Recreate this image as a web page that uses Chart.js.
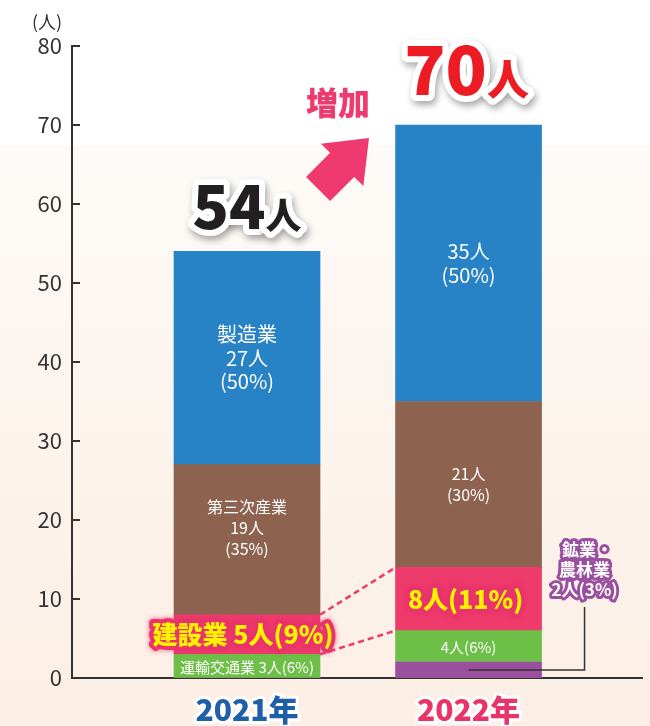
<!DOCTYPE html>
<html>
<head>
<meta charset="utf-8">
<script src="https://cdn.jsdelivr.net/npm/chart.js@4.4.1/dist/chart.umd.min.js"></script>
<style>
    html, body { margin: 0; padding: 0; }
    body {
        width: 650px; height: 726px; overflow: hidden;
        background: linear-gradient(to bottom, #ffffff 0px, #ffffff 144px, #fdfbf8 146px, #fcf4ed 420px, #fcefe5 726px);
    }
    #wrap { position: relative; width: 650px; height: 726px; }
</style>
</head>
<body>
<div id="wrap"><canvas id="chart" width="650" height="726"></canvas></div>
<script>
// data (人)
const years = ['2021年', '2022年'];
const mining = [0, 2];          // 鉱業・農林業
const transport = [3, 4];       // 運輸交通業
const construction = [5, 8];    // 建設業
const tertiary = [19, 21];      // 第三次産業
const manufacturing = [27, 35]; // 製造業
const yTicks = [0, 10, 20, 30, 40, 50, 60, 70, 80];

const series = [mining, transport, construction, tertiary, manufacturing];
const colors = ['#9b4f9f', '#6dbf47', '#ef3a6c', '#8d624f', '#2882c6'];
const totals = years.map((_, i) => series.reduce((s, arr) => s + arr[i], 0));
const pct = (arr, i) => Math.round(arr[i] / totals[i] * 100);

const FONT = '"Noto Sans CJK JP", "Noto Sans", sans-serif';

function txt(ctx, s, x, y, o) {
    ctx.save();
    ctx.font = (o.weight || 'normal') + ' ' + o.size + 'px ' + FONT;
    ctx.textAlign = o.align || 'center';
    ctx.textBaseline = o.baseline || 'middle';
    if (o.stroke) {
        if (o.glow) {
            ctx.shadowColor = o.glow;
            ctx.shadowBlur = 5;
        }
        ctx.lineJoin = 'round';
        ctx.strokeStyle = o.stroke;
        ctx.lineWidth = o.strokeWidth;
        ctx.strokeText(s, x, y);
        ctx.shadowColor = 'transparent';
    }
    ctx.fillStyle = o.color;
    ctx.fillText(s, x, y);
    ctx.restore();
}

function lines(ctx, arr, x, cy, size, gap, color) {
    const top = cy - (arr.length - 1) * gap / 2;
    arr.forEach((s, k) => txt(ctx, s, x, top + k * gap, { size: size, color: color }));
}

// big "54人" style total with white outline and shadow
function bigTotal(ctx, num, cx, base, numSize, unitSize, color) {
    ctx.save();
    ctx.textBaseline = 'alphabetic';
    ctx.textAlign = 'left';
    const fN = '900 ' + numSize + 'px ' + FONT;
    const fU = '900 ' + unitSize + 'px ' + FONT;
    ctx.font = fN;
    const wN = ctx.measureText(num).width;
    ctx.font = fU;
    const wU = ctx.measureText('人').width;
    const x0 = cx - (wN + wU) / 2;
    ctx.lineJoin = 'round';
    ctx.strokeStyle = '#ffffff';
    ctx.lineWidth = 12;
    ctx.shadowColor = 'rgba(0,0,0,0.35)';
    ctx.shadowBlur = 7;
    ctx.shadowOffsetX = 2;
    ctx.shadowOffsetY = 4;
    ctx.font = fN; ctx.strokeText(num, x0, base);
    ctx.font = fU; ctx.strokeText('人', x0 + wN, base);
    ctx.shadowColor = 'transparent';
    ctx.fillStyle = color;
    ctx.font = fN; ctx.fillText(num, x0, base);
    ctx.font = fU; ctx.fillText('人', x0 + wN, base);
    ctx.restore();
}

const overlay = {
    id: 'overlay',
    afterDatasetsDraw(chart) {
        const ctx = chart.ctx;
        const ys = chart.scales.y;
        const area = chart.chartArea;
        const bars = series.map((_, i) => chart.getDatasetMeta(i).data);
        const mid = el => (el.y + el.base) / 2;

        // inward tick marks on the y axis
        ctx.save();
        ctx.strokeStyle = '#333';
        ctx.lineWidth = 2;
        yTicks.forEach(v => {
            const y = Math.round(ys.getPixelForValue(v));
            ctx.beginPath();
            ctx.moveTo(area.left, y);
            ctx.lineTo(area.left + 8, y);
            ctx.stroke();
        });
        ctx.restore();

        // unit label
        txt(ctx, '(人)', 47, 22, { size: 18, color: '#333' });

        // dashed lines linking the 建設業 segments
        const c0 = bars[2][0], c1 = bars[2][1];
        ctx.save();
        ctx.strokeStyle = '#ef3a6c';
        ctx.lineWidth = 2.5;
        ctx.setLineDash([6, 4]);
        ctx.beginPath();
        ctx.moveTo(c0.x + c0.width / 2, c0.y);
        ctx.lineTo(c1.x - c1.width / 2, c1.y);
        ctx.moveTo(c0.x + c0.width / 2, c0.base);
        ctx.lineTo(c1.x - c1.width / 2, c1.base);
        ctx.stroke();
        ctx.restore();

        // 製造業
        const m0 = bars[4][0], m1 = bars[4][1];
        lines(ctx, ['製造業', manufacturing[0] + '人', '(' + pct(manufacturing, 0) + '%)'], m0.x, mid(m0), 20, 23.5, '#fff');
        lines(ctx, [manufacturing[1] + '人', '(' + pct(manufacturing, 1) + '%)'], m1.x, mid(m1), 20, 23.5, '#fff');

        // 第三次産業
        const t0 = bars[3][0], t1 = bars[3][1];
        lines(ctx, ['第三次産業', tertiary[0] + '人', '(' + pct(tertiary, 0) + '%)'], t0.x, mid(t0) - 12, 16, 21, '#fff');
        lines(ctx, [tertiary[1] + '人', '(' + pct(tertiary, 1) + '%)'], t1.x, mid(t1), 16, 21.5, '#fff');

        // 建設業
        const yel = { size: 25, weight: '900', color: '#fff200', stroke: '#e8336b', strokeWidth: 8, glow: 'rgba(232,51,107,0.8)' };
        txt(ctx, '建設業 ' + construction[0] + '人(' + pct(construction, 0) + '%)', c0.x - 4, mid(c0), yel);
        txt(ctx, construction[1] + '人(' + pct(construction, 1) + '%)', c1.x - 3, mid(c1), yel);

        // 運輸交通業
        const r0 = bars[1][0], r1 = bars[1][1];
        txt(ctx, '運輸交通業 ' + transport[0] + '人(' + pct(transport, 0) + '%)', r0.x, mid(r0) + 1, { size: 15, color: '#fff' });
        txt(ctx, transport[1] + '人(' + pct(transport, 1) + '%)', r1.x, mid(r1) + 1, { size: 15, color: '#fff' });

        // 鉱業・農林業 callout
        const g1 = bars[0][1];
        const cx = g1.x + g1.width / 2 + 43;
        const topY = ys.getPixelForValue(9);
        ctx.save();
        ctx.strokeStyle = '#333';
        ctx.lineWidth = 1.5;
        ctx.beginPath();
        ctx.moveTo(g1.x, mid(g1));
        ctx.lineTo(cx, mid(g1));
        ctx.lineTo(cx, topY);
        ctx.stroke();
        ctx.restore();
        const pur = { size: 17, weight: 'bold', color: '#fff', stroke: '#9b4f9f', strokeWidth: 6 };
        txt(ctx, '鉱業・', cx + 3, topY - 57, pur);
        txt(ctx, '農林業', cx, topY - 37, pur);
        txt(ctx, mining[1] + '人(' + pct(mining, 1) + '%)', cx, topY - 17, pur);

        // totals
        const b0 = bars[4][0], b1 = bars[4][1];
        bigTotal(ctx, String(totals[0]), b0.x, ys.getPixelForValue(totals[0]) - 22, 60, 36, '#231f20');
        bigTotal(ctx, String(totals[1]), b1.x - 2, ys.getPixelForValue(totals[1]) - 30, 68, 42, '#ed1c24');

        // 増加 + arrow
        txt(ctx, '増加', 338, 103, { size: 32, weight: '900', color: '#ee3a6e' });
        ctx.save();
        ctx.translate(369, 138);
        ctx.rotate(-Math.PI / 4);
        ctx.fillStyle = '#ee3a6e';
        ctx.beginPath();
        ctx.moveTo(0, 0);
        ctx.lineTo(-38, -30);
        ctx.lineTo(-38, -17);
        ctx.lineTo(-72, -17);
        ctx.lineTo(-72, 17);
        ctx.lineTo(-38, 17);
        ctx.lineTo(-38, 30);
        ctx.closePath();
        ctx.fill();
        ctx.restore();
    }
};

const labelNames = ['鉱業・農林業', '運輸交通業', '建設業', '第三次産業', '製造業'];

new Chart(document.getElementById('chart'), {
    type: 'bar',
    data: {
        datasets: series.map((arr, i) => ({
            label: labelNames[i],
            data: arr.map((v, k) => ({ x: k, y: v })),
            backgroundColor: colors[i],
            borderWidth: 0,
            barThickness: 146
        }))
    },
    options: {
        responsive: false,
        animation: false,
        events: [],
        layout: { padding: { top: 46, right: 8, left: 0, bottom: 0 } },
        plugins: { legend: { display: false }, tooltip: { enabled: false } },
        scales: {
            x: {
                type: 'linear',
                stacked: true,
                offset: false,
                min: -0.79,
                max: 1.783,
                grid: { display: false, drawTicks: false },
                border: { display: true, color: '#333', width: 2 },
                ticks: {
                    stepSize: 1,
                    autoSkip: false,
                    maxRotation: 0,
                    padding: 14,
                    callback: v => years[v] !== undefined ? years[v] : '',
                    color: c => c.tick && c.tick.value === 1 ? '#e9336b' : '#1f5fa8',
                    font: { size: 30, weight: '900', family: FONT },
                    textStrokeColor: '#ffffff',
                    textStrokeWidth: 6
                },
                afterFit: s => { s.height = 48; s.paddingLeft = 0; s.paddingRight = 0; }
            },
            y: {
                stacked: true,
                min: 0,
                max: 80,
                grid: { display: false, drawTicks: false },
                border: { display: true, color: '#333', width: 2 },
                ticks: {
                    stepSize: 10,
                    padding: 10,
                    color: '#333',
                    font: { size: 22, family: FONT }
                },
                afterFit: s => { s.width = 72; s.paddingTop = 0; s.paddingBottom = 0; }
            }
        }
    },
    plugins: [overlay]
});
</script>
</body>
</html>
